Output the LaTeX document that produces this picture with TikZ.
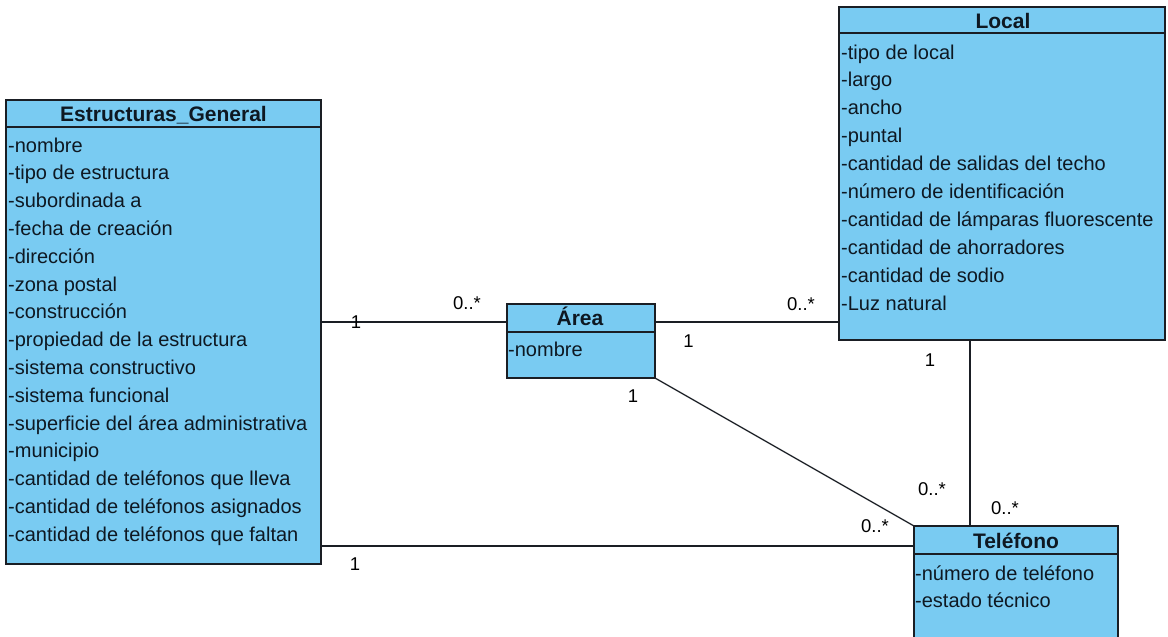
\documentclass[tikz,border=0pt]{standalone}
\usepackage{fontspec}
\setmainfont{Liberation Sans}
\definecolor{classfill}{HTML}{79CBF2}
\definecolor{classline}{HTML}{1A1E24}
\definecolor{txt}{HTML}{0E1822}
\tikzset{
  classbox/.style={draw=classline, fill=classfill, line width=1.5pt, anchor=north west, outer sep=0pt, inner sep=0pt},
  sepline/.style={draw=classline, line width=1.5pt},
  assoc/.style={draw=classline, line width=1.3pt},
  attr/.style={font=\fontsize{20}{24}\selectfont, text=txt, anchor=base west, inner sep=0pt},
  ttl/.style={font=\bfseries\fontsize{21}{24}\selectfont, text=txt, anchor=base, inner sep=0pt},
  mult/.style={font=\fontsize{18.5}{22}\selectfont, text=black, inner sep=0pt}
}
\begin{document}
\begin{tikzpicture}[x=1pt,y=-1pt]
\useasboundingbox (0,0) rectangle (1168,637);
\clip (0,0) rectangle (1168,637);

% rows and columns used by the associations
\coordinate (rowtop) at (0,322);
\coordinate (rowbot) at (0,546);
\coordinate (colloc) at (970,0);

% class boxes
\node[classbox, minimum width=315pt, minimum height=464pt] (eg) at (6,100) {};
\node[classbox, minimum width=148pt, minimum height=74pt] (area) at (507,304) {};
\node[classbox, minimum width=326pt, minimum height=333pt] (loc) at (839,7) {};
\node[classbox, minimum width=204pt, minimum height=130pt] (tel) at (914,526) {};

% associations
\draw[assoc] (eg.east |- rowtop) -- (area.west |- rowtop);
\draw[assoc] (area.east |- rowtop) -- (loc.west |- rowtop);
\draw[assoc] (eg.east |- rowbot) -- (tel.west |- rowbot);
\draw[assoc] (area.south east) -- (tel.north west);
\draw[assoc] (colloc |- loc.south) -- (colloc |- tel.north);

% title separators
\draw[sepline] ([yshift=-27pt]eg.north west) -- ([yshift=-27pt]eg.north east);
\draw[sepline] ([yshift=-28pt]area.north west) -- ([yshift=-28pt]area.north east);
\draw[sepline] ([yshift=-26pt]loc.north west) -- ([yshift=-26pt]loc.north east);
\draw[sepline] ([yshift=-28pt]tel.north west) -- ([yshift=-28pt]tel.north east);

% titles
\node[ttl] (eg-t) at (163.5,121.5) {Estructuras\_General};
\node[ttl] (area-t) at (580,325) {Área};
\node[ttl] (loc-t) at (1003,28) {Local};
\node[ttl] (tel-t) at (1016,548) {Teléfono};

% attributes
\foreach \t [count=\i] in {-nombre, -tipo de estructura, -subordinada a,
  -fecha de creación, -dirección, -zona postal, -construcción,
  -propiedad de la estructura, -sistema constructivo, -sistema funcional,
  -superficie del área administrativa, -municipio,
  -cantidad de teléfonos que lleva, -cantidad de teléfonos asignados,
  -cantidad de teléfonos que faltan}
  \node[attr] (eg-\i) at (8,{152+27.8*(\i-1)}) {\t};
\node[attr] (area-1) at (508,356.5) {-nombre};
\foreach \t [count=\i] in {-tipo de local, -largo, -ancho, -puntal,
  -cantidad de salidas del techo, -número de identificación,
  -cantidad de lámparas fluorescente, -cantidad de ahorradores,
  -cantidad de sodio, -Luz natural}
  \node[attr] (loc-\i) at (841,{59+27.9*(\i-1)}) {\t};
\node[attr] (tel-1) at (915,580) {-número de teléfono};
\node[attr] (tel-2) at (915,607.7) {-estado técnico};

% multiplicities
\node[mult] (m1) at (356,322) {1};
\node[mult] (m2) at (467,303) {0..*};
\node[mult] (m3) at (355,564) {1};
\node[mult] (m4) at (688.5,341) {1};
\node[mult] (m5) at (801,304) {0..*};
\node[mult] (m6) at (633,396) {1};
\node[mult] (m7) at (930,360) {1};
\node[mult] (m8) at (932,489) {0..*};
\node[mult] (m9) at (1005,508) {0..*};
\node[mult] (m10) at (875,526) {0..*};
\end{tikzpicture}
\end{document}
